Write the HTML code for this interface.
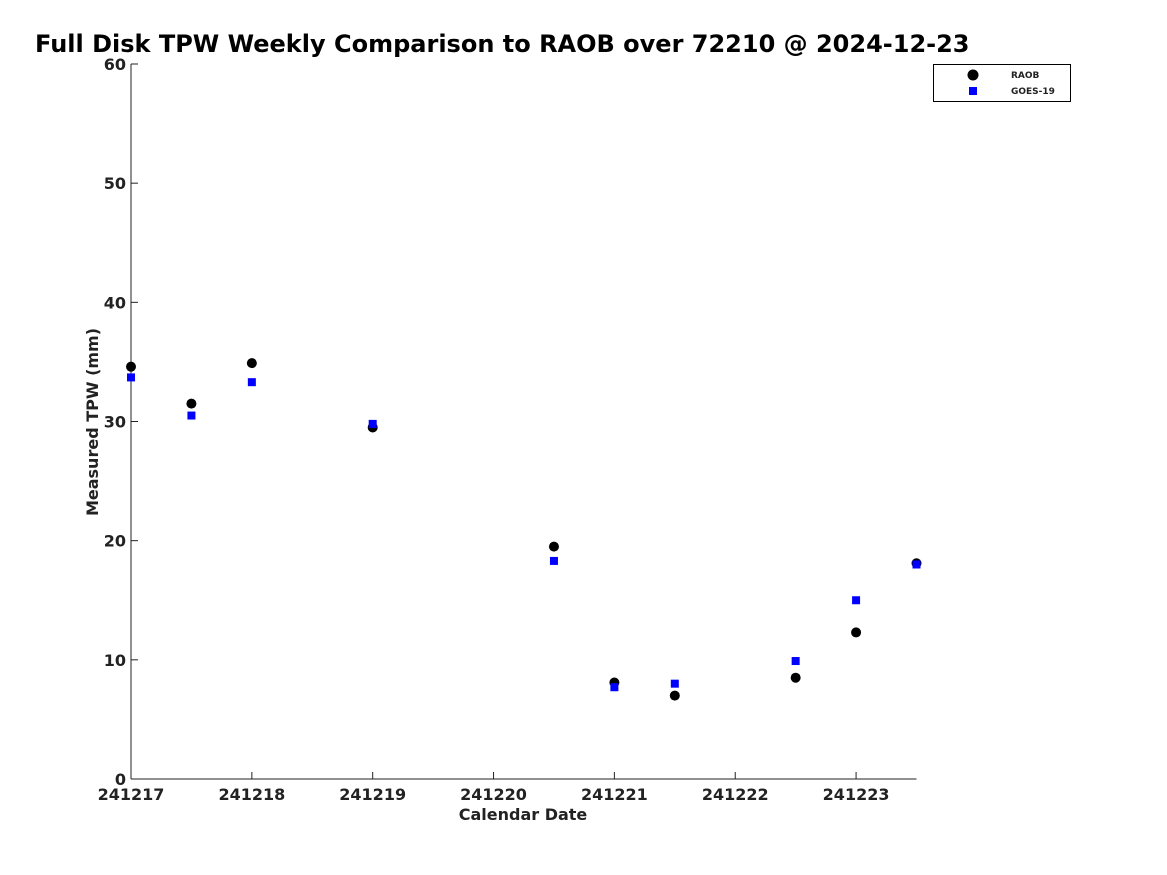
<!DOCTYPE html>
<html><head><meta charset="utf-8"><style>
body{margin:0;background:#fff;}
svg{display:block;font-family:"DejaVu Sans","Liberation Sans",sans-serif;}
</style></head><body>
<svg id="chart" width="1167" height="875" viewBox="0 0 1167 875">
<text x="35" y="52" font-size="24" font-weight="bold" fill="#000">Full Disk TPW Weekly Comparison to RAOB over 72210 @ 2024-12-23</text>
<g id="axes"></g>
<g id="marks"></g>
<g>
<rect x="933.5" y="64.5" width="137" height="37" fill="#fff" stroke="#000" stroke-width="1"/>
<circle cx="973" cy="75" r="5.5" fill="#000"/>
<text x="1011" y="78" font-size="9" font-weight="bold" fill="#222">RAOB</text>
<rect x="969" y="87" width="8" height="8" fill="#0000ff"/>
<text x="1011" y="94" font-size="9" font-weight="bold" fill="#222">GOES-19</text>
</g>
</svg>
<script>
const xTicks = [0,1,2,3,4,5,6];
const xTickLabels = ["241217","241218","241219","241220","241221","241222","241223"];
const yTicks = [0,10,20,30,40,50,60];
const days = [0,0.5,1,2,3.5,4,4.5,5.5,6,6.5];
const raob = [34.6,31.5,34.9,29.5,19.5,8.1,7.0,8.5,12.3,18.1];
const goes = [33.7,30.5,33.3,29.8,18.3,7.7,8.0,9.9,15.0,18.0];
const X0=131, X1=916.5, XMAX=6.5, Y0=779, Y1=64, YMAX=60;
const xs = d => X0 + d*(X1-X0)/XMAX;
const ys = v => Y0 - v*(Y0-Y1)/YMAX;
const NS="http://www.w3.org/2000/svg";
const ax=document.getElementById('axes'), mk=document.getElementById('marks');
function mkEl(tag, attrs, parent){const e=document.createElementNS(NS,tag);for(const k in attrs)e.setAttribute(k,attrs[k]);parent.appendChild(e);return e;}
let l=mkEl('line',{x1:X0,y1:Y0,x2:X1,y2:Y0,stroke:'#222','stroke-width':1},ax);


l=mkEl('line',{x1:X0,y1:Y0,x2:X0,y2:Y1,stroke:'#222','stroke-width':1},ax);


xTicks.forEach((d,i)=>{
 const t=mkEl('line',{x1:xs(d),y1:Y0,x2:xs(d),y2:Y0-7,stroke:'#222'},ax);
 
 
 const tx=mkEl('text',{x:xs(d),y:Y0+21,'text-anchor':'middle','font-size':16,'font-weight':'bold',fill:'#222'},ax);
 tx.textContent=xTickLabels[i];
 
 
});
yTicks.forEach(v=>{
 const t=mkEl('line',{x1:X0,y1:ys(v),x2:X0+7,y2:ys(v),stroke:'#222'},ax);
 
 
 const tx=mkEl('text',{x:X0-5,y:ys(v)+6,'text-anchor':'end','font-size':16,'font-weight':'bold',fill:'#222'},ax);
 tx.textContent=v;
 
 
});
let tt=mkEl('text',{x:523,y:820,'text-anchor':'middle','font-size':16,'font-weight':'bold',fill:'#222'},ax);
tt.textContent='Calendar Date';


tt=mkEl('text',{x:0,y:0,'text-anchor':'middle','font-size':16,'font-weight':'bold',fill:'#222',transform:'translate(98,422) rotate(-90)'},ax);
tt.textContent='Measured TPW (mm)';


days.forEach((d,i)=>{
 const c=mkEl('circle',{cx:xs(d),cy:ys(raob[i]),r:5,fill:'#000'},mk);
 
 
});
days.forEach((d,i)=>{
 const r=mkEl('rect',{x:xs(d)-4,y:ys(goes[i])-4,width:8,height:8,fill:'#0000ff'},mk);
 
 
});
</script>
</body></html>
